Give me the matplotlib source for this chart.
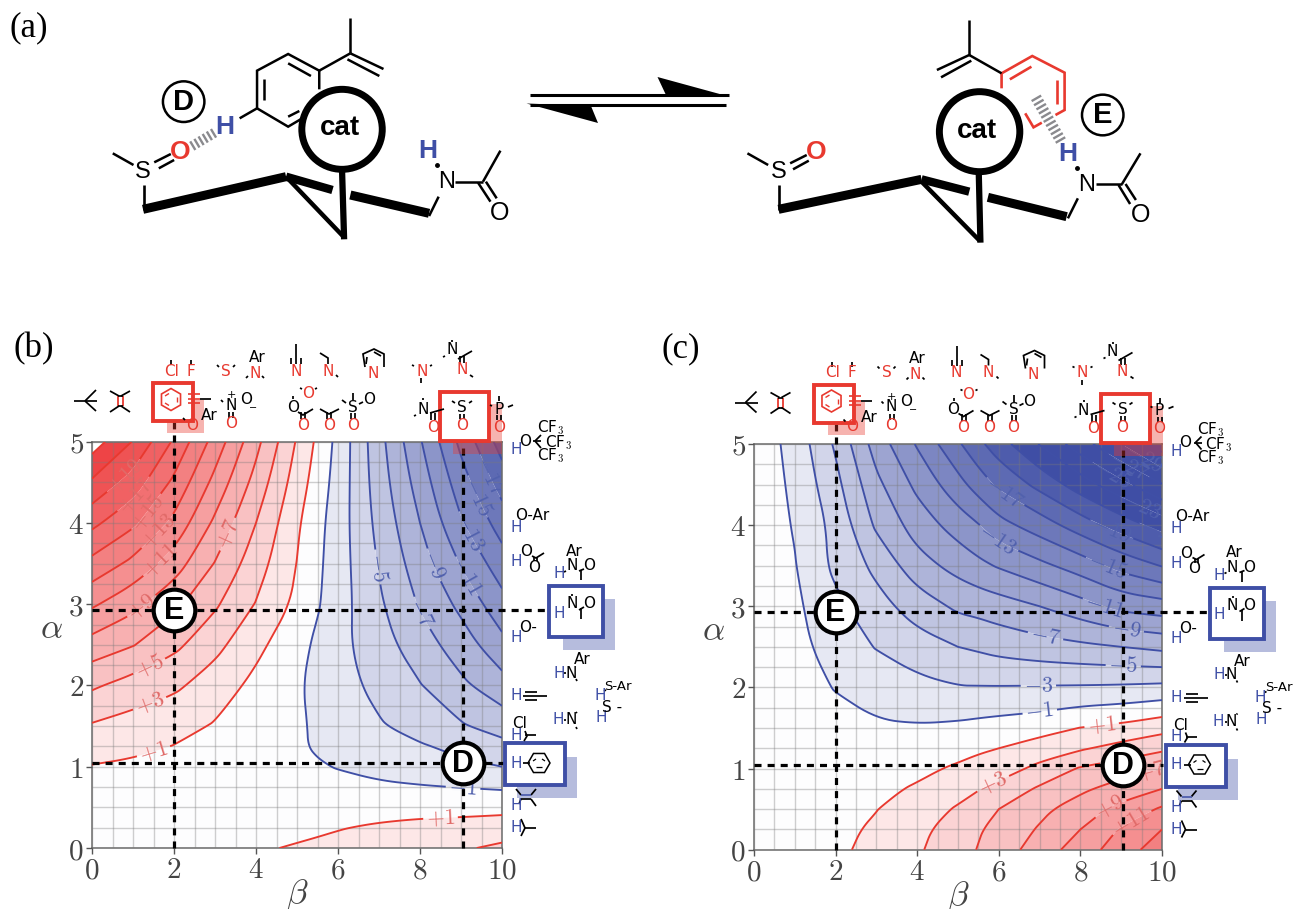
import numpy as np
import matplotlib
matplotlib.use("Agg")
import matplotlib.pyplot as plt
from matplotlib.path import Path
from matplotlib.patches import Rectangle, Ellipse, Polygon, RegularPolygon

plt.rcParams['mathtext.fontset'] = 'cm'
plt.rcParams['font.family'] = 'DejaVu Sans'

BETA = [0, 1, 2, 3, 4, 5, 5.5, 6, 7, 8, 9, 10]
ALPHA = [0, .25, .5, .75, 1, 1.25, 1.5, 2, 2.5, 3, 3.5, 4, 4.5, 5]

Z_B = [
    [.1, .2, .35, .5, .8, 1.15, 1.35, 1.55, 2, 2.4, 2.75, 3.4],
    [.1, .15, .2, .25, .3, .55, .7, .9, 1.25, 1.55, 1.7, 1.9],
    [.15, .2, .2, .2, .2, .2, .2, .2, .25, .3, .35, .45],
    [.5, .4, .3, .15, 0, -.2, -.3, -.4, -.65, -.85, -1.05, -1.25],
    [.9, .7, .5, .3, -.05, -.5, -.8, -1.1, -1.7, -2.2, -2.6, -3],
    [1.85, 1.4, .95, .6, .1, -.7, -1.25, -1.7, -2.3, -2.8, -3.5, -4.4],
    [2.8, 2.2, 1.6, .85, .2, -.8, -1.2, -1.7, -2.8, -3.8, -4.8, -5.8],
    [5.3, 4.2, 3.4, 2.0, .5, -.8, -1.45, -2.2, -3.6, -4.9, -6.6, -8.2],
    [8.2, 7.1, 5.5, 3.6, 1.5, -.3, -1.4, -2.4, -4.2, -6.1, -8, -10.4],
    [11.3, 9.6, 7.5, 5.3, 2.9, .6, -.8, -2.1, -4.7, -7.2, -9.5, -12.3],
    [14.4, 12.5, 10, 6.9, 3.95, .95, -.6, -2.05, -5.15, -8.1, -11.15, -14.1],
    [17.5, 15.4, 12.5, 8.6, 5, 1.3, -.4, -2, -5.6, -9, -12.8, -15.9],
    [20.7, 18.1, 14.6, 10.4, 6.3, 2.05, .1, -1.8, -6, -9.9, -14.1, -17.9],
    [24, 20.9, 16.7, 12.2, 7.6, 2.8, .6, -1.6, -6.3, -10.8, -15.5, -19.9],
]
Z_C = [
    [0, 0, .6, 1.6, 2.75, 4.2, 5.1, 6, 7.9, 10, 12, 14.1],
    [0, .05, .5, 1.3, 2.5, 3.9, 4.8, 5.65, 7.2, 9, 11.2, 13],
    [0, 0, .4, .95, 2.1, 3.2, 4, 5, 6.5, 8, 9.6, 11.3],
    [0, 0, .3, .6, 1.2, 2.35, 2.9, 3.6, 5.3, 6.6, 7.9, 9],
    [0, 0, .1, .3, .6, 1.25, 1.7, 2.1, 3.5, 5.2, 6, 7],
    [0, -.1, -.1, -.15, 0, .4, .7, 1, 1.95, 2.75, 3.7, 4.6],
    [.05, -.1, -.3, -.75, -.83, -.6, -.4, -.2, .2, 1.05, 1.5, 2.3],
    [.1, -.2, -1.1, -1.85, -2.4, -2.9, -2.9, -2.9, -2.85, -2.8, -2.7, -2.5],
    [.2, -.3, -2, -3.1, -4.2, -5, -5.3, -5.7, -6.2, -6.6, -7, -7.5],
    [.2, -.6, -2.5, -4.3, -5.9, -7.4, -7.7, -8.1, -9, -10.2, -11.6, -12.1],
    [.2, -.9, -3.5, -5.5, -8.2, -9.7, -10.5, -11.2, -12.5, -13.9, -15.7, -17.1],
    [.3, -1.15, -3.6, -7.35, -9.9, -11.9, -12.9, -14.3, -16, -18, -19.9, -21.8],
    [.3, -1.4, -4.4, -8.5, -11.5, -14.3, -15.9, -17.4, -19.6, -22, -24.4, -26.9],
    [.3, -1.7, -5.3, -9.9, -13.2, -16.7, -18.5, -20.1, -23.1, -26.1, -29, -32],
]
LEVELS = list(range(-35, 25, 2))
X_TICKS = [0, 2, 4, 6, 8, 10]
Y_TICKS = [0, 1, 2, 3, 4, 5]
DONOR_ALPHA = 1.04
PI_ALPHA = 2.93
SO_BETA = 9.05
ARENE_BETA = 2.0

LABELS_B = [(1.5, 1.19), (1.42, 1.76), (1.42, 2.21), (3.45, 3.83), (1.3, 2.92), (1.74, 3.5),
            (1.66, 3.87), (1.37, 4.12), (1.09, 4.32), (.8, 4.57), (7, 3.46), (8.33, 3.48),
            (8.04, 2.89), (9.17, 3.35), (9.22, 3.89), (9.38, 4.32), (9.67, 4.57), (8.5, .38), (9.05, .74)]
LABELS_C = [(7, 1.72), (6.97, 2.02), (9.05, 2.26), (7.13, 2.6), (9.13, 2.73), (8.6, 3.02),
            (5.95, 3.8), (8.64, 3.47), (6.15, 4.41), (8.76, 3.94), (9.95, 3.9), (9.5, 4.23),
            (8.8, 4.64), (9.2, 4.74), (9.63, 4.87), (8.52, 1.54), (5.82, .86), (8.9, 1.12),
            (9.74, .96), (8.72, .53), (9.22, .37)]

RED = '#e8392f'
BLUE = '#3f4fa6'

W, H = 1293, 909
fig = plt.figure(figsize=(W / 100, H / 100), dpi=100)


def band_colour(m):
    if abs(m) < 1:
        t = 0.012
    else:
        t = min((abs(m) / 22) ** .85, 1.0)
    end = np.array([238, 68, 70]) / 255 if m > 0 else np.array([63, 78, 165]) / 255
    return tuple(1 - (1 - end) * t)


def round_run(a, n=3):
    for _ in range(n):
        if len(a) < 3:
            return a
        p, q = a[:-1], a[1:]
        mid = np.empty((2 * len(p), 2))
        mid[0::2] = .75 * p + .25 * q
        mid[1::2] = .25 * p + .75 * q
        a = np.vstack([a[:1], mid, a[-1:]])
    return a


def round_ring(a):
    """Round the corners that the coarse table leaves, keeping vertices on the frame."""
    edge = (np.isclose(a[:, 0], 0) | np.isclose(a[:, 0], 10) | np.isclose(a[:, 1], 0) | np.isclose(a[:, 1], 5))
    idx = np.flatnonzero(edge)
    closed = len(a) > 3 and np.allclose(a[0], a[-1])
    if len(idx) == 0:
        if not closed:
            return round_run(a)
        b = np.vstack([a[:-1], a[:-1], a[:-1]])
        s = round_run(b)
        k = len(s) // 3
        part = s[k:2 * k]
        return np.vstack([part, part[:1]])
    if closed:
        a = np.vstack([a[idx[0]:-1], a[:idx[0] + 1]])
        edge = (np.isclose(a[:, 0], 0) | np.isclose(a[:, 0], 10) | np.isclose(a[:, 1], 0) | np.isclose(a[:, 1], 5))
        idx = np.flatnonzero(edge)
    out = []
    cuts = list(idx)
    if cuts[0] != 0:
        cuts = [0] + cuts
    if cuts[-1] != len(a) - 1:
        cuts = cuts + [len(a) - 1]
    for i, j in zip(cuts[:-1], cuts[1:]):
        out.append(round_run(a[i:j + 1])[:-1])
    out.append(a[-1:])
    return np.vstack(out)


def rounded_paths(cs, closed):
    new = []
    for p in cs.get_paths():
        polys = p.to_polygons(closed_only=closed)
        parts = [Path(round_ring(np.asarray(q))) for q in polys if len(q) >= 2]
        new.append(Path.make_compound_path(*parts) if parts else Path(np.empty((0, 2))))
    cs._paths = new
    cs.stale = True


def panel(rect, z, labels, boxes):
    ax = fig.add_axes([rect[0] / W, 1 - rect[3] / H, (rect[2] - rect[0]) / W, (rect[3] - rect[1]) / H])
    x, y, zz = np.array(BETA), np.array(ALPHA), np.array(z)
    mids = [(a + b) / 2 for a, b in zip(LEVELS[:-1], LEVELS[1:])]
    cf = ax.contourf(x, y, zz, levels=LEVELS, colors=[band_colour(m) for m in mids], zorder=1, antialiased=True)
    rounded_paths(cf, True)
    ax.set_xlim(0, 10)
    ax.set_ylim(0, 5)
    ax.set_xticks(np.arange(0, 10.01, .5), minor=True)
    ax.set_yticks(np.arange(0, 5.01, .25), minor=True)
    ax.set_xticks(X_TICKS)
    ax.set_yticks(Y_TICKS)
    ax.grid(which='both', color='#7a7a7a', alpha=.36, lw=1.0, zorder=2)
    ax.set_axisbelow(False)
    ax.tick_params(which='minor', length=0)
    ax.tick_params(which='major', length=4, color='#555555', width=1, pad=2)
    ax.set_xticklabels([f'${v}$' for v in X_TICKS], fontsize=21, color='#444444')
    ax.set_yticklabels([f'${v}$' for v in Y_TICKS], fontsize=21, color='#444444')
    for s in ax.spines.values():
        s.set_color('#6a6a6a')
        s.set_linewidth(1.1)
    ax.set_xlabel(r'$\beta$', fontsize=25, color='#444444', labelpad=-5)
    ax.set_ylabel(r'$\alpha$', fontsize=25, color='#444444', rotation=0, labelpad=12)
    lv = [l for l in LEVELS if l != -35]
    cs = ax.contour(x, y, zz, levels=lv, colors=[RED if l > 0 else BLUE for l in lv], linewidths=1.35, zorder=3)
    rounded_paths(cs, False)
    fmt = {l: (f'$+{l}$' if l > 0 else f'$-{abs(l)}$') for l in lv}
    texts = ax.clabel(cs, fontsize=16, fmt=fmt, manual=labels, inline=True, inline_spacing=3)
    for t in texts:
        t.set_color('#e06a68' if '+' in t.get_text() else '#5161ad')
        t.set_zorder(4)
    # reference lines
    dash = dict(color='black', lw=2.3, ls=(0, (2.2, 1.9)), clip_on=False, zorder=5)
    ax.plot([ARENE_BETA, ARENE_BETA], [0, 5.25], **dash)
    ax.plot([SO_BETA, SO_BETA], [0, 5.1], **dash)
    ax.plot([0, boxes[0]], [PI_ALPHA, PI_ALPHA], **dash)
    ax.plot([0, boxes[1]], [DONOR_ALPHA, DONOR_ALPHA], **dash)
    for (bx, ay, name) in [(ARENE_BETA, PI_ALPHA, 'E'), (SO_BETA, DONOR_ALPHA, 'D')]:
        ax.scatter([bx], [ay], s=900, facecolor='white', edgecolor='black', lw=3, zorder=6, clip_on=False)
        ax.text(bx, ay - .01, name, ha='center', va='center', fontsize=22, fontweight='bold',
                family='Liberation Sans', zorder=7)
    return ax


panel((92, 441.7, 502, 848), Z_B, LABELS_B, (11.12, 10.05))
panel((754, 444, 1162, 849.7), Z_C, LABELS_C, (11.1, 10.02))

ov = fig.add_axes([0, 0, 1, 1], zorder=10)
ov.set_xlim(0, W)
ov.set_ylim(H, 0)
ov.axis('off')
ov.patch.set_alpha(0)

KX = 1 / 2.412
KY = 1 / 3


def L(pts, c='black', lw=1.3, dx=0, dy=0, z=12):
    a = np.array(pts, dtype=float)
    ov.plot(a[:, 0] + dx, a[:, 1] + dy, color=c, lw=lw, solid_capstyle='butt', solid_joinstyle='miter', zorder=z)


def S(pts, c='black', lw=1.8, dx=0):
    a = np.array(pts, dtype=float)
    ov.plot(a[:, 0] * KX + dx, a[:, 1] * KY, color=c, lw=lw, solid_capstyle='butt', solid_joinstyle='miter', zorder=12)


def T(x, y, s, c='black', fs=11, dx=0, dy=0, **kw):
    kw.setdefault('zorder', 13)
    ov.text(x + dx, y + dy, s, color=c, fontsize=fs, ha='center', va='center', **kw)


def ST(x, y, s, c='black', fs=17, dx=0, **kw):
    T(x * KX + dx, y * KY, s, c=c, fs=fs, family=HV, **kw)


# ---- part (a) -------------------------------------------------------------
X2 = 650
HV = 'Liberation Sans'
T(29, 28, '(a)', fs=25, family='Liberation Serif')
T(34, 349, '(b)', fs=25, family='Liberation Serif')
T(681, 349, '(c)', fs=25, family='Liberation Serif')


def cat(cx, cy, tx, ty, dx):
    ov.add_patch(Ellipse((cx * KX + dx, cy * KY), 194 * KX, 240 * KY, fc='white', ec='black', lw=5, zorder=14))
    ST(tx, ty, 'cat', fs=20, dx=dx, fontweight='bold', zorder=15)


def circ(cx, cy, s, dx):
    ov.add_patch(Ellipse((cx * KX + dx, cy * KY), 100 * KX, 122 * KY, fc='white', ec='black', lw=1.8, zorder=12))
    ST(cx, cy, s, fs=21, dx=dx, fontweight='bold')


def hash_bond(a, b, n, dx, w=5, c='#8a8a8e'):
    a = np.array([a[0] * KX + dx, a[1] * KY])
    b = np.array([b[0] * KX + dx, b[1] * KY])
    d = (b - a) / np.linalg.norm(b - a)
    nrm = np.array([-d[1], d[0]])
    for i in range(n):
        p = a + (b - a) * i / (n - 1)
        L([p - nrm * w, p + nrm * w], c=c, lw=1.7)


# left structure
for seg, lw in [([(272, 460), (322, 495)], 1.8), ([(347, 555), (347, 630)], 1.9),
                ([(372, 487), (412, 462)], 1.8), ([(383, 505), (420, 480)], 1.8),
                ([(620, 325), (620, 212), (695, 162), (770, 212), (770, 268)], 1.8),
                ([(578, 355), (620, 325), (695, 380), (725, 358)], 1.8),
                ([(637, 238), (637, 300)], 1.8), ([(695, 190), (750, 228)], 1.8), ([(695, 350), (722, 333)], 1.8),
                ([(770, 212), (845, 160)], 1.8), ([(845, 160), (845, 55)], 1.8), ([(845, 160), (925, 207)], 1.8),
                ([(838, 178), (915, 228)], 1.8),
                ([(1035, 648), (1058, 590)], 1.8), ([(1098, 545), (1165, 545)], 1.8),
                ([(1165, 545), (1207, 452)], 1.8), ([(1153, 548), (1183, 605)], 1.8), ([(1172, 545), (1198, 595)], 1.8),
                ([(345, 628), (690, 530)], 6.5), ([(690, 530), (802, 570)], 6),
                ([(845, 585), (1035, 640)], 6.5), ([(690, 530), (830, 712)], 3.2), ([(825, 510), (830, 718)], 4.5)]:
    S(seg, lw=lw)
cat(825, 388, 820, 385, 0)
circ(443, 305, 'D', 0)
hash_bond((465, 437), (515, 400), 6, 0)
ST(345, 517, 'S')
ST(435, 455, 'O', c=RED, fs=19, fontweight='bold')
ST(543, 382, 'H', c=BLUE, fs=19, fontweight='bold')
ST(1032, 452, 'H', c=BLUE, fs=19, fontweight='bold')
ST(1076, 547, 'N')
ST(1205, 640, 'O', fs=18)
ov.plot([1054 * KX], [495 * KY], 'o', ms=2.5, color='black', zorder=12)

# right structure
for seg, lw, c in [([(235, 460), (285, 495)], 1.8, 'black'), ([(312, 555), (312, 630)], 1.9, 'black'),
                   ([(338, 490), (378, 465)], 1.8, 'black'), ([(345, 508), (383, 482)], 1.8, 'black'),
                   ([(848, 265), (848, 220), (922, 168), (1000, 218), (1000, 330), (978, 345)], 1.9, RED),
                   ([(905, 340), (925, 382), (945, 368)], 1.9, RED),
                   ([(868, 238), (920, 200)], 1.9, RED), ([(982, 240), (982, 312)], 1.9, RED),
                   ([(848, 220), (770, 165)], 1.8, 'black'), ([(770, 165), (770, 60)], 1.8, 'black'),
                   ([(770, 165), (692, 210)], 1.8, 'black'), ([(775, 182), (702, 232)], 1.8, 'black'),
                   ([(1008, 655), (1032, 595)], 1.8, 'black'), ([(1075, 553), (1138, 553)], 1.8, 'black'),
                   ([(1138, 553), (1183, 460)], 1.8, 'black'), ([(1130, 555), (1158, 612)], 1.8, 'black'),
                   ([(1147, 552), (1172, 600)], 1.8, 'black'),
                   ([(310, 628), (655, 538)], 6.5, 'black'), ([(655, 538), (770, 575)], 6, 'black'),
                   ([(815, 592), (1005, 650)], 6.5, 'black'), ([(655, 545), (795, 722)], 3.2, 'black'),
                   ([(793, 520), (797, 728)], 4.5, 'black')]:
    S(seg, c=c, lw=lw, dx=X2)
cat(795, 395, 788, 392, X2)
circ(1092, 345, 'E', X2)
hash_bond((932, 295), (990, 420), 11, X2, w=5.5)
ST(310, 517, 'S', dx=X2)
ST(400, 455, 'O', c=RED, fs=19, dx=X2, fontweight='bold')
ST(1008, 462, 'H', c=BLUE, fs=19, dx=X2, fontweight='bold')
ST(1052, 555, 'N', dx=X2)
ST(1183, 645, 'O', fs=18, dx=X2)
ov.plot([1030 * KX + X2], [505 * KY], 'o', ms=2.5, color='black', zorder=12)

# equilibrium arrows
L([(530, 95), (729, 95)], lw=2.2)
L([(530, 105), (726, 105)], lw=2.2)
ov.add_patch(Polygon([(728.8, 96.5), (657.5, 77), (665.5, 94)], fc='black', ec='none', zorder=12))
ov.add_patch(Polygon([(526.5, 103.5), (598, 123), (591, 106)], fc='black', ec='none', zorder=12))


# ---- solvent decorations --------------------------------------------------
def deco(dx, dy):
    kw = dict(dx=dx, dy=dy)
    ln = dict(dx=dx, dy=dy, lw=1.25)
    # shadows
    for (x0, y0, x1, y1, c) in [(167, 400, 204, 433, RED), (453, 404, 502, 454, RED),
                                (563, 599, 615, 650, BLUE), (517, 757, 577, 798, BLUE)]:
        ov.add_patch(Rectangle((x0 + dx, y0 + dy), x1 - x0, y1 - y0, fc=c, ec='none', alpha=.38, zorder=11))
    # boxes
    for (x0, y0, x1, y1, c) in [(153, 383, 193, 421, RED), (440, 392, 489, 441, RED),
                                (549, 586, 603, 637, BLUE), (505, 743, 565, 785, BLUE)]:
        ov.add_patch(Rectangle((x0 + dx, y0 + dy), x1 - x0, y1 - y0, fc='white', ec=c, lw=2.8, zorder=11.5))
    # top row, upper line
    T(172, 371, 'Cl', RED, **kw)
    L([(171, 360), (171, 365)], **ln)
    T(191, 371, 'F', RED, **kw)
    L([(191, 360), (191, 365)], **ln)
    T(226, 371, 'S', RED, **kw)
    L([(217, 365), (219, 367)], **ln)
    L([(233, 367), (235, 365)], **ln)
    T(257, 357, 'Ar', **kw)
    T(255, 373, 'N', RED, **kw)
    L([(246, 378), (248, 376)], **ln)
    L([(262, 376), (264, 378)], **ln)
    T(296, 371, 'N', RED, **kw)
    for xx, y0 in [(291, 358), (296, 344), (301, 358)]:
        L([(xx, y0), (xx, 364)], **ln)
    T(328, 371, 'N', RED, **kw)
    L([(320, 353), (328, 358), (328, 364)], **ln)
    L([(336, 375), (338, 377)], **ln)
    T(373, 373, 'N', RED, **kw)
    L([(365, 367), (363, 354), (374, 349), (384, 354), (384, 367)], **ln)
    L([(367, 357), (366, 364)], **ln)
    L([(374, 352), (381, 356)], **ln)
    T(422, 371, 'N', RED, **kw)
    L([(412, 365), (414, 366)], **ln)
    L([(430, 366), (432, 365)], **ln)
    L([(421, 378), (421, 383)], **ln)
    T(452, 350, 'N', **kw)
    L([(452, 340), (452, 342)], **ln)
    L([(443, 357), (445, 356)], **ln)
    T(462, 370, 'N', RED, **kw)
    L([(460, 356), (460, 363)], **ln)
    L([(464, 356), (464, 363)], **ln)
    L([(458, 359), (472, 351)], **ln)
    L([(470, 375), (473, 377)], **ln)
    # top row, lower line
    L([(74, 401), (97, 401)], **ln)
    L([(85, 401), (96, 390)], **ln)
    L([(85, 401), (96, 411)], **ln)
    L([(110, 391), (119, 396)], **ln)
    L([(130, 391), (121, 396)], **ln)
    L([(110, 412), (119, 406)], **ln)
    L([(130, 412), (121, 406)], **ln)
    L([(117.5, 396), (117.5, 406)], c=RED, dx=dx, dy=dy, lw=1.3)
    L([(122.5, 396), (122.5, 406)], c=RED, dx=dx, dy=dy, lw=1.3)
    L([(117.5, 396), (122.5, 396)], **ln)
    L([(117.5, 406), (122.5, 406)], **ln)
    ov.add_patch(RegularPolygon((171 + dx, 399.5 + dy), 6, radius=11, fc='none', ec=RED, lw=1.2, zorder=13))
    L([(165, 396), (169, 393.5)], c=RED, dx=dx, dy=dy, lw=1)
    L([(165, 403), (169, 405.5)], c=RED, dx=dx, dy=dy, lw=1)
    L([(177, 397), (177, 402)], c=RED, dx=dx, dy=dy, lw=1)
    for yy in (394, 399, 403):
        L([(188, yy), (200, yy)], c=RED, dx=dx, dy=dy, lw=1.2)
    L([(200, 399), (211, 399)], **ln)
    T(192, 425, 'O', RED, **kw)
    T(209, 416, 'Ar', **kw)
    L([(183, 418), (185, 420)], **ln)
    T(231, 405, 'N', **kw)
    T(231, 395.5, '+', fs=8, **kw)
    T(246, 400, 'O', **kw)
    T(253, 408, '\u2212', fs=7, **kw)
    T(231, 424, 'O', RED, **kw)
    L([(229, 412), (229, 418)], **ln)
    L([(233, 412), (233, 418)], **ln)
    L([(221, 400), (223, 402)], **ln)
    T(293, 408, 'O', **kw)
    L([(293, 396), (293, 399)], **ln)
    T(308, 393, 'O', RED, **kw)
    L([(300, 388), (302, 389)], **ln)
    L([(315, 389), (317, 388)], **ln)
    T(303, 426, 'O', RED, **kw)
    L([(301, 412), (301, 419)], **ln)
    L([(305, 412), (305, 419)], **ln)
    L([(298, 412), (303, 415), (313, 409)], **ln)
    T(329, 426, 'O', RED, **kw)
    L([(327, 412), (327, 419)], **ln)
    L([(331, 412), (331, 419)], **ln)
    L([(320, 409), (329, 414), (339, 409)], **ln)
    T(353, 408, 'S', **kw)
    L([(353, 393), (353, 400)], **ln)
    L([(342, 400), (346, 403)], **ln)
    L([(359, 404), (363, 402)], **ln)
    T(369, 400, 'O', **kw)
    T(353, 426, 'O', RED, **kw)
    L([(351, 413), (351, 419)], **ln)
    L([(355, 413), (355, 419)], **ln)
    T(423, 409, 'N', **kw)
    L([(423, 398), (423, 400)], **ln)
    L([(414, 416), (416, 415)], **ln)
    T(433, 427, 'O', RED, **kw)
    L([(431, 413), (431, 420)], **ln)
    L([(435, 413), (435, 420)], **ln)
    L([(430, 413), (444, 409)], **ln)
    T(462, 408, 'S', **kw)
    L([(452, 401), (455, 403)], **ln)
    L([(469, 403), (472, 401)], **ln)
    T(462, 426, 'O', RED, **kw)
    L([(460, 414), (460, 419)], **ln)
    L([(464, 414), (464, 419)], **ln)
    T(499, 409, 'P', **kw)
    L([(499, 396), (499, 401)], **ln)
    L([(490, 405), (492, 406)], **ln)
    L([(508, 407), (513, 405)], **ln)
    T(499, 427, 'O', RED, **kw)
    L([(497, 415), (497, 420)], **ln)
    L([(501, 415), (501, 420)], **ln)
    # right column
    for (x, y) in [(516, 450), (516, 527), (516, 562), (559, 574), (559, 613), (516, 637), (559, 673),
                   (600, 696), (516, 696), (601, 718), (558, 720), (516, 735), (516, 763), (516, 806), (516, 828)]:
        T(x, y, 'H', BLUE, **kw)
    T(525, 441, 'O', **kw)
    T(550, 428, 'CF$_3$', **kw)
    T(558, 443, 'CF$_3$', **kw)
    T(550, 456, 'CF$_3$', **kw)
    L([(533, 441), (541, 441)], **ln)
    L([(535, 441), (541, 435)], **ln)
    L([(535, 441), (541, 448)], **ln)
    T(532, 515, 'O-Ar', **kw)
    T(526, 552, 'O', **kw)
    T(534, 567, 'O', **kw)
    L([(532, 556), (536, 558), (544, 553)], **ln)
    L([(534, 557), (534, 561)], **ln)
    L([(537, 557), (537, 561)], **ln)
    T(574, 551, 'Ar', **kw)
    T(572, 566, 'N', **kw)
    T(589, 566, 'O', **kw)
    L([(564, 572), (566, 571)], **ln)
    L([(579, 571), (584, 569)], **ln)
    L([(581, 570), (581, 580)], **ln)
    T(572, 604, 'N', **kw)
    T(589, 604, 'O', **kw)
    L([(572, 594), (572, 596)], **ln)
    L([(579, 610), (584, 607)], **ln)
    L([(581, 608), (581, 619)], **ln)
    T(528, 627, 'O-', **kw)
    T(571, 673, 'N', **kw)
    T(582, 660, 'Ar', **kw)
    L([(564, 673), (566, 673)], **ln)
    L([(576, 679), (577, 681)], **ln)
    T(618, 686, 'S-Ar', fs=9.5, **kw)
    L([(604, 691), (606, 690)], **ln)
    L([(523, 696), (547, 696)], **ln)
    L([(525, 692), (537, 692)], **ln)
    L([(525, 700), (537, 700)], **ln)
    T(612, 707, 'S -', **kw)
    T(571, 720, 'N', **kw)
    L([(564, 720), (566, 720)], **ln)
    L([(576, 713), (577, 712)], **ln)
    L([(576, 727), (577, 729)], **ln)
    T(520, 724, 'Cl', **kw)
    L([(525, 735), (536, 735)], **ln)
    L([(525, 731), (527, 736), (524, 741)], **ln)
    L([(523, 763), (530, 763)], **ln)
    ov.add_patch(RegularPolygon((539 + dx, 763 + dy), 6, radius=11, orientation=np.pi / 6, fc='none', ec='black',
                                lw=1.1, zorder=13))
    L([(533, 761), (536, 759)], dx=dx, dy=dy, lw=.9)
    L([(542, 759), (545, 761)], dx=dx, dy=dy, lw=.9)
    L([(536, 767), (542, 767)], dx=dx, dy=dy, lw=.9)
    L([(516, 789), (521, 795)], **ln)
    L([(536, 789), (531, 795)], **ln)
    L([(521, 795), (531, 795)], c=BLUE, dx=dx, dy=dy, lw=1.1)
    L([(521, 799), (531, 799)], **ln)
    L([(519, 804), (521, 799)], **ln)
    L([(531, 799), (536, 806)], **ln)
    L([(525, 828), (536, 828)], **ln)
    L([(521, 819), (525, 828), (521, 836)], **ln)


deco(0, 0)
deco(660.5, 1.5)

fig.savefig('out.png', dpi=100)
